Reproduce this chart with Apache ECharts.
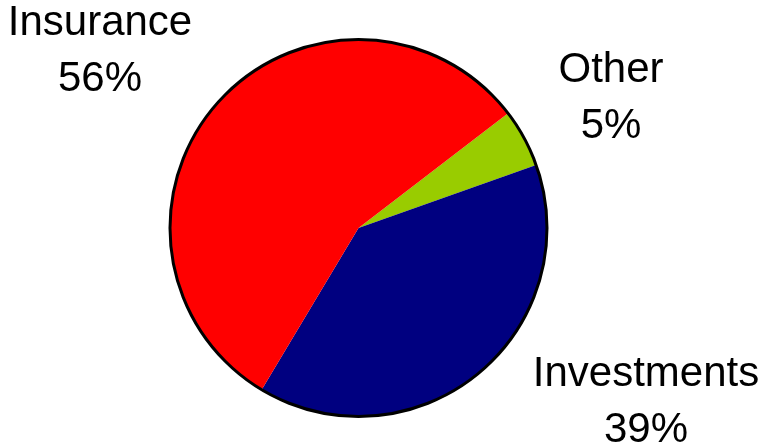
<!DOCTYPE html>
<html>
<head>
<meta charset="utf-8">
<script src="https://cdn.jsdelivr.net/npm/echarts@6/dist/echarts.min.js"></script>
<style>
html,body{margin:0;padding:0;background:#fff;}
#chart{width:762px;height:446px;}
</style>
</head>
<body>
<div id="chart"></div>
<script>
var categories = ['Other', 'Investments', 'Insurance'];
var values = [5, 39, 56];
var colors = ['#99CC00', '#000080', '#FF0000'];

// label anchor positions (layout only)
var labelPos = {
  'Other': [611, 98],
  'Investments': [646, 402],
  'Insurance': [100, 51]
};

var chart = echarts.init(document.getElementById('chart'));
var data = categories.map(function (c, i) {
  return { name: c, value: values[i], itemStyle: { color: colors[i] } };
});

chart.setOption({
  animation: false,
  backgroundColor: '#ffffff',
  series: [
    {
      type: 'pie',
      center: [358.5, 228],
      radius: [0, 188.5],
      startAngle: 37.5,
      clockwise: true,
      data: data,
      itemStyle: { borderWidth: 0 },
      label: {
        show: true,
        position: 'outside',
        formatter: '{b}\n{d}%',
        fontFamily: 'Liberation Sans, Arial, sans-serif',
        fontSize: 42,
        lineHeight: 56,
        color: '#000',
        align: 'center',
        overflow: 'none',
        width: 400
      },
      labelLine: { show: false },
      labelLayout: function (params) {
        var p = labelPos[categories[params.dataIndex]];
        return { x: p[0], y: p[1], align: 'center', verticalAlign: 'middle' };
      },
      emphasis: { disabled: true },
      silent: true
    },
    {
      type: 'pie',
      center: [358.5, 228],
      radius: [0, 188.5],
      data: [{ value: 1, name: 'outline' }],
      itemStyle: { color: 'rgba(0,0,0,0)', borderColor: '#000', borderWidth: 3 },
      label: { show: false },
      labelLine: { show: false },
      emphasis: { disabled: true },
      silent: true,
      z: 3
    }
  ]
});
</script>
</body>
</html>
